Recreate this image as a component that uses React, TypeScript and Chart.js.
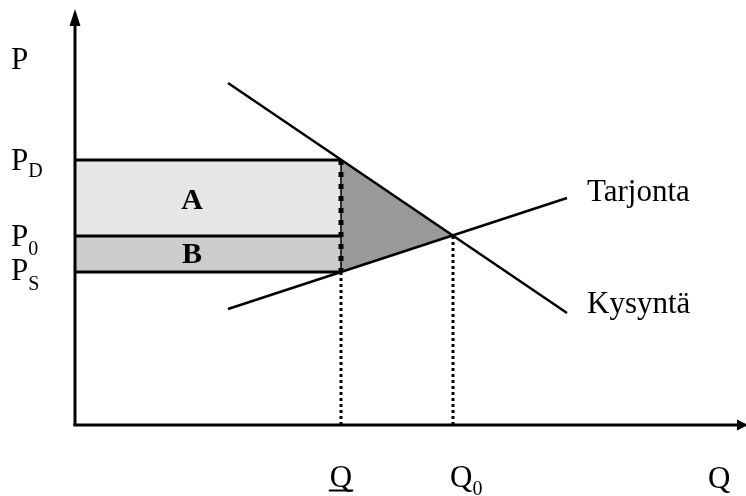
import React, { useEffect, useRef } from "react";
import { Chart, registerables } from "chart.js";

Chart.register(...registerables);

// ---- data (quantity / price units) ----
const Q_MAX = 671;
const P_MAX = 416;
const quantities = [266, 378]; // Q (restricted), Q0 (equilibrium)
const prices = [265, 189, 153]; // P_D, P_0, P_S
const demandQ = [153, 492];
const demandP = [342, 112];
const supplyQ = [153, 492];
const supplyP = [116, 227];
const priceTickMain = ["P", "P", "P"];
const priceTickSub = ["D", "0", "S"];
const curveNames = ["Tarjonta", "Kysyntä"];
const areaNames = ["A", "B"];
const axisNames = ["P", "Q"];

const SERIF = '"Liberation Serif", "Times New Roman", Times, serif';

const [Q1, Q0] = quantities;
const [PD, P0, PS] = prices;

function pts(xs: number[], ys: number[]) {
  return xs.map((x, i) => ({ x, y: ys[i] }));
}

const annotPlugin = {
  id: "annot",
  afterDatasetsDraw(chart: any) {
    const { ctx, scales } = chart;
    const xs = scales.x;
    const ys = scales.y;
    const px = (v: number) => xs.getPixelForValue(v);
    const py = (v: number) => ys.getPixelForValue(v);
    ctx.save();
    ctx.fillStyle = "#000";
    ctx.strokeStyle = "#000";

    // axes
    const ox = px(0);
    const oy = py(0);
    const topY = py(P_MAX);
    const rightX = px(Q_MAX);
    ctx.lineWidth = 3;
    ctx.beginPath();
    ctx.moveTo(ox, oy + 1);
    ctx.lineTo(ox, topY + 14);
    ctx.stroke();
    ctx.beginPath();
    ctx.moveTo(ox - 1.5, oy);
    ctx.lineTo(rightX - 8, oy);
    ctx.stroke();
    // arrowheads
    ctx.beginPath();
    ctx.moveTo(ox, topY);
    ctx.lineTo(ox - 5.5, topY + 17);
    ctx.lineTo(ox + 5.5, topY + 17);
    ctx.closePath();
    ctx.fill();
    ctx.beginPath();
    ctx.moveTo(rightX + 2, oy);
    ctx.lineTo(rightX - 9, oy - 5.5);
    ctx.lineTo(rightX - 9, oy + 5.5);
    ctx.closePath();
    ctx.fill();

    const txt = (main: string, sub: string, x: number, yb: number, drop: number) => {
      ctx.font = `31px ${SERIF}`;
      ctx.textAlign = "left";
      ctx.textBaseline = "alphabetic";
      ctx.fillText(main, x, yb);
      if (sub) {
        const w = ctx.measureText(main).width;
        ctx.font = `20px ${SERIF}`;
        ctx.fillText(sub, x + w, yb + drop);
      }
    };

    // axis names
    txt(axisNames[0], "", 11, py(356), 0);
    txt(axisNames[1], "", rightX - 38, oy + 63, 0);

    // price ticks
    const drops = [7, 9, 10];
    const offs = [10, 10, 8];
    prices.forEach((p, i) => {
      txt(priceTickMain[i], priceTickSub[i], 11, py(p) + offs[i], drops[i]);
    });

    // quantity ticks
    ctx.font = `31px ${SERIF}`;
    const qw = ctx.measureText("Q").width;
    const qx = px(Q1) - qw / 2;
    txt("Q", "", qx, oy + 62, 0);
    ctx.lineWidth = 2;
    ctx.beginPath();
    ctx.moveTo(qx - 1, oy + 65.5);
    ctx.lineTo(qx + qw + 1, oy + 65.5);
    ctx.stroke();
    txt("Q", "0", px(Q0) - 3, oy + 62, 8);

    // curve names
    txt(curveNames[0], "", px(supplyQ[1]) + 20, py(supplyP[1]) + 3, 0);
    txt(curveNames[1], "", px(demandQ[1]) + 20, py(demandP[1]) + 0, 0);

    // area names
    ctx.font = `bold 30px ${SERIF}`;
    ctx.textAlign = "center";
    ctx.textBaseline = "middle";
    const ax = px(Q1 * 0.44);
    ctx.fillText(areaNames[0], ax, (py(PD) + py(P0)) / 2 + 3);
    ctx.fillText(areaNames[1], ax, (py(P0) + py(PS)) / 2 + 1);

    ctx.restore();
  },
};

export default function App() {
  const ref = useRef<HTMLCanvasElement | null>(null);

  useEffect(() => {
    if (!ref.current) return;
    const base = {
      showLine: true,
      pointRadius: 0,
      pointHoverRadius: 0,
      borderColor: "#000",
      fill: false,
      clip: false as any,
      tension: 0,
    };
    const chart = new Chart(ref.current, {
      type: "scatter",
      data: {
        datasets: [
          { ...base, data: pts(demandQ, demandP), borderWidth: 2.5, order: 1 },
          { ...base, data: pts(supplyQ, supplyP), borderWidth: 2.5, order: 1 },
          {
            ...base,
            data: pts([Q1, Q1], [PD, PS]),
            borderWidth: 5,
            borderDash: [5, 7],
            borderCapStyle: "butt",
            order: 2,
          },
          { ...base, data: pts([Q1, Q1], [PS, 0]), borderWidth: 3, borderDash: [3, 3], order: 2 },
          { ...base, data: pts([Q0, Q0], [P0, 0]), borderWidth: 3, borderDash: [3, 3], order: 2 },
          { ...base, data: pts([Q1, Q1], [PD, PS]), borderWidth: 1.5, order: 3 },
          { ...base, data: pts([0, Q1], [PS, PS]), borderWidth: 3, order: 3 },
          {
            ...base,
            data: pts([0, Q1], [PD, PD]),
            borderWidth: 3,
            backgroundColor: "#e6e6e6",
            fill: { value: P0 },
            order: 5,
          },
          {
            ...base,
            data: pts([0, Q1], [P0, P0]),
            borderWidth: 3,
            backgroundColor: "#cccccc",
            fill: { value: PS },
            order: 4,
          },
          {
            ...base,
            data: pts([Q1, Q0], [PD, P0]),
            borderWidth: 0,
            borderColor: "rgba(0,0,0,0)",
            backgroundColor: "#999999",
            fill: "+1",
            order: 6,
          },
          {
            ...base,
            data: pts([Q1, Q0], [PS, P0]),
            borderWidth: 0,
            borderColor: "rgba(0,0,0,0)",
            order: 6,
          },
        ] as any,
      },
      options: {
        animation: false,
        responsive: false,
        devicePixelRatio: 1,
        events: [],
        layout: { padding: { left: 75, right: 0, top: 9, bottom: 71 } },
        plugins: {
          legend: { display: false },
          tooltip: { enabled: false },
          title: { display: false },
        },
        scales: {
          x: { type: "linear", min: 0, max: Q_MAX, display: false },
          y: { type: "linear", min: 0, max: P_MAX, display: false },
        },
      },
      plugins: [annotPlugin],
    });
    return () => chart.destroy();
  }, []);

  return (
    <div style={{ position: "absolute", left: 0, top: 0, width: 746, height: 496, background: "#fff" }}>
      <canvas ref={ref} width={746} height={496} style={{ display: "block", width: 746, height: 496 }} />
    </div>
  );
}
